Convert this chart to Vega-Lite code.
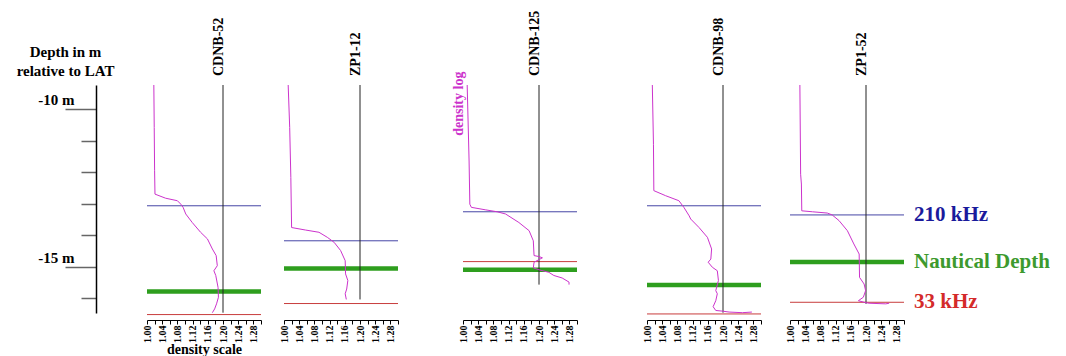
{
"$schema": "https://vega.github.io/schema/vega-lite/v6.json",
"background": "white",
"padding": {"left": 16, "top": 10, "right": 0, "bottom": 0},
"bounds": "flush",
"spacing": 0,
"config": {"view": {"stroke": null}, "font": "Liberation Serif"},
"datasets": {
"profiles": [
{"panel":"CDNB-52","i":1,"density":1.018,"depth":-9.24},{"panel":"CDNB-52","i":2,"density":1.019,"depth":-10.59},{"panel":"CDNB-52","i":3,"density":1.020,"depth":-11.96},{"panel":"CDNB-52","i":4,"density":1.021,"depth":-12.70},{"panel":"CDNB-52","i":5,"density":1.049,"depth":-12.83},{"panel":"CDNB-52","i":6,"density":1.080,"depth":-12.91},{"panel":"CDNB-52","i":7,"density":1.089,"depth":-13.02},{"panel":"CDNB-52","i":8,"density":1.095,"depth":-13.12},{"panel":"CDNB-52","i":9,"density":1.102,"depth":-13.33},{"panel":"CDNB-52","i":10,"density":1.119,"depth":-13.60},{"panel":"CDNB-52","i":11,"density":1.141,"depth":-13.91},{"panel":"CDNB-52","i":12,"density":1.159,"depth":-14.12},{"panel":"CDNB-52","i":13,"density":1.172,"depth":-14.44},{"panel":"CDNB-52","i":14,"density":1.182,"depth":-14.65},{"panel":"CDNB-52","i":15,"density":1.185,"depth":-14.97},{"panel":"CDNB-52","i":16,"density":1.176,"depth":-15.13},{"panel":"CDNB-52","i":17,"density":1.181,"depth":-15.28},{"panel":"CDNB-52","i":18,"density":1.187,"depth":-15.66},{"panel":"CDNB-52","i":19,"density":1.188,"depth":-15.97},{"panel":"CDNB-52","i":20,"density":1.183,"depth":-16.18},{"panel":"CDNB-52","i":21,"density":1.178,"depth":-16.34},{"panel":"CDNB-52","i":22,"density":1.172,"depth":-16.46},
{"panel":"ZP1-12","i":1,"density":1.011,"depth":-9.24},{"panel":"ZP1-12","i":2,"density":1.015,"depth":-10.59},{"panel":"ZP1-12","i":3,"density":1.018,"depth":-12.17},{"panel":"ZP1-12","i":4,"density":1.020,"depth":-13.76},{"panel":"ZP1-12","i":5,"density":1.057,"depth":-13.84},{"panel":"ZP1-12","i":6,"density":1.092,"depth":-13.91},{"panel":"ZP1-12","i":7,"density":1.114,"depth":-14.07},{"panel":"ZP1-12","i":8,"density":1.132,"depth":-14.23},{"panel":"ZP1-12","i":9,"density":1.149,"depth":-14.49},{"panel":"ZP1-12","i":10,"density":1.161,"depth":-14.81},{"panel":"ZP1-12","i":11,"density":1.162,"depth":-15.23},{"panel":"ZP1-12","i":12,"density":1.168,"depth":-15.44},{"panel":"ZP1-12","i":13,"density":1.165,"depth":-15.71},{"panel":"ZP1-12","i":14,"density":1.161,"depth":-15.86},{"panel":"ZP1-12","i":15,"density":1.164,"depth":-16.04},
{"panel":"CDNB-125","i":1,"density":1.011,"depth":-9.24},{"panel":"CDNB-125","i":2,"density":1.016,"depth":-11.65},{"panel":"CDNB-125","i":3,"density":1.018,"depth":-13.02},{"panel":"CDNB-125","i":4,"density":1.022,"depth":-13.12},{"panel":"CDNB-125","i":5,"density":1.060,"depth":-13.20},{"panel":"CDNB-125","i":6,"density":1.090,"depth":-13.26},{"panel":"CDNB-125","i":7,"density":1.112,"depth":-13.33},{"panel":"CDNB-125","i":8,"density":1.147,"depth":-13.60},{"panel":"CDNB-125","i":9,"density":1.174,"depth":-13.86},{"panel":"CDNB-125","i":10,"density":1.185,"depth":-14.18},{"panel":"CDNB-125","i":11,"density":1.187,"depth":-14.65},{"panel":"CDNB-125","i":12,"density":1.200,"depth":-14.68},{"panel":"CDNB-125","i":13,"density":1.209,"depth":-14.72},{"panel":"CDNB-125","i":14,"density":1.198,"depth":-14.79},{"panel":"CDNB-125","i":15,"density":1.187,"depth":-14.86},{"panel":"CDNB-125","i":16,"density":1.185,"depth":-15.04},{"panel":"CDNB-125","i":17,"density":1.200,"depth":-15.10},{"panel":"CDNB-125","i":18,"density":1.226,"depth":-15.18},{"panel":"CDNB-125","i":19,"density":1.239,"depth":-15.28},{"panel":"CDNB-125","i":20,"density":1.261,"depth":-15.36},{"panel":"CDNB-125","i":21,"density":1.279,"depth":-15.49},{"panel":"CDNB-125","i":22,"density":1.279,"depth":-15.57},
{"panel":"CDNB-98","i":1,"density":1.014,"depth":-9.24},{"panel":"CDNB-98","i":2,"density":1.017,"depth":-11.12},{"panel":"CDNB-98","i":3,"density":1.018,"depth":-12.59},{"panel":"CDNB-98","i":4,"density":1.049,"depth":-12.75},{"panel":"CDNB-98","i":5,"density":1.084,"depth":-12.91},{"panel":"CDNB-98","i":6,"density":1.097,"depth":-13.12},{"panel":"CDNB-98","i":7,"density":1.111,"depth":-13.39},{"panel":"CDNB-98","i":8,"density":1.115,"depth":-13.49},{"panel":"CDNB-98","i":9,"density":1.137,"depth":-13.76},{"panel":"CDNB-98","i":10,"density":1.159,"depth":-14.07},{"panel":"CDNB-98","i":11,"density":1.170,"depth":-14.44},{"panel":"CDNB-98","i":12,"density":1.168,"depth":-14.76},{"panel":"CDNB-98","i":13,"density":1.161,"depth":-14.86},{"panel":"CDNB-98","i":14,"density":1.172,"depth":-15.02},{"panel":"CDNB-98","i":15,"density":1.185,"depth":-15.13},{"panel":"CDNB-98","i":16,"density":1.188,"depth":-15.44},{"panel":"CDNB-98","i":17,"density":1.181,"depth":-15.76},{"panel":"CDNB-98","i":18,"density":1.185,"depth":-15.86},{"panel":"CDNB-98","i":19,"density":1.181,"depth":-16.08},{"panel":"CDNB-98","i":20,"density":1.174,"depth":-16.27},{"panel":"CDNB-98","i":21,"density":1.181,"depth":-16.39},{"panel":"CDNB-98","i":22,"density":1.198,"depth":-16.41},{"panel":"CDNB-98","i":23,"density":1.216,"depth":-16.44},{"panel":"CDNB-98","i":24,"density":1.251,"depth":-16.46},{"panel":"CDNB-98","i":25,"density":1.276,"depth":-16.44},
{"panel":"ZP1-52","i":1,"density":1.026,"depth":-9.24},{"panel":"ZP1-52","i":2,"density":1.028,"depth":-12.07},{"panel":"ZP1-52","i":3,"density":1.030,"depth":-12.38},{"panel":"ZP1-52","i":4,"density":1.031,"depth":-13.23},{"panel":"ZP1-52","i":5,"density":1.059,"depth":-13.26},{"panel":"ZP1-52","i":6,"density":1.098,"depth":-13.30},{"panel":"ZP1-52","i":7,"density":1.111,"depth":-13.36},{"panel":"ZP1-52","i":8,"density":1.129,"depth":-13.54},{"panel":"ZP1-52","i":9,"density":1.151,"depth":-13.86},{"panel":"ZP1-52","i":10,"density":1.168,"depth":-14.28},{"panel":"ZP1-52","i":11,"density":1.182,"depth":-14.60},{"panel":"ZP1-52","i":12,"density":1.183,"depth":-15.34},{"panel":"ZP1-52","i":13,"density":1.195,"depth":-15.55},{"panel":"ZP1-52","i":14,"density":1.199,"depth":-15.76},{"panel":"ZP1-52","i":15,"density":1.193,"depth":-15.97},{"panel":"ZP1-52","i":16,"density":1.180,"depth":-16.08},{"panel":"ZP1-52","i":17,"density":1.195,"depth":-16.13},{"panel":"ZP1-52","i":18,"density":1.208,"depth":-16.16},{"panel":"ZP1-52","i":19,"density":1.252,"depth":-16.18},{"panel":"ZP1-52","i":20,"density":1.261,"depth":-16.16}
],
"levels": [
{"panel":"CDNB-52","level":"210 kHz","depth":-13.07},{"panel":"CDNB-52","level":"Nautical Depth","depth":-15.79},{"panel":"CDNB-52","level":"33 kHz","depth":-16.52},
{"panel":"ZP1-12","level":"210 kHz","depth":-14.18},{"panel":"ZP1-12","level":"Nautical Depth","depth":-15.06},{"panel":"ZP1-12","level":"33 kHz","depth":-16.17},
{"panel":"CDNB-125","level":"210 kHz","depth":-13.26},{"panel":"CDNB-125","level":"Nautical Depth","depth":-15.10},{"panel":"CDNB-125","level":"33 kHz","depth":-14.84},
{"panel":"CDNB-98","level":"210 kHz","depth":-13.07},{"panel":"CDNB-98","level":"Nautical Depth","depth":-15.58},{"panel":"CDNB-98","level":"33 kHz","depth":-16.50},
{"panel":"ZP1-52","level":"210 kHz","depth":-13.36},{"panel":"ZP1-52","level":"Nautical Depth","depth":-14.85},{"panel":"ZP1-52","level":"33 kHz","depth":-16.13}
]
},
"hconcat": [
{"width":114,"height":228,"layer":[
 {"data":{"name":"levels"},"transform":[{"filter":"datum.panel === 'CDNB-52'"}],"mark":{"type":"rule"},"encoding":{"y":{"field":"depth","type":"quantitative","scale":{"domain":[-16.47,-9.24],"nice":false,"zero":false}},"stroke":{"field":"level","type":"nominal","scale":{"type":"ordinal","domain":["210 kHz","Nautical Depth","33 kHz"],"range":["#4646a6","#2e9e1e","#c83c3c"]},"legend":null},"strokeWidth":{"field":"level","type":"nominal","scale":{"type":"ordinal","domain":["210 kHz","Nautical Depth","33 kHz"],"range":[1,4.5,1]},"legend":null}}},
 {"data":{"name":"profiles"},"transform":[{"filter":"datum.panel === 'CDNB-52'"}],"mark":{"type":"rule","color":"#222","strokeWidth":1},"encoding":{"x":{"datum":1.2,"type":"quantitative","scale":{"domain":[1,1.3],"nice":false,"zero":false}},"y":{"aggregate":"max","field":"depth","type":"quantitative","scale":{"domain":[-16.47,-9.24],"nice":false,"zero":false}},"y2":{"aggregate":"min","field":"depth"}}},
 {"data":{"name":"profiles"},"transform":[{"filter":"datum.panel === 'CDNB-52'"}],"mark":{"type":"line","color":"#cc33cc","strokeWidth":1},"encoding":{
   "x":{"field":"density","type":"quantitative","scale":{"domain":[1,1.3],"nice":false,"zero":false},"axis":{"values":[1,1.02,1.04,1.06,1.08,1.1,1.12,1.14,1.16,1.18,1.2,1.22,1.24,1.26,1.28,1.3],"tickCount":40,"labelExpr":"round(datum.value*100) % 4 == 0 && datum.value < 1.29 ? format(datum.value, '.2f') : ''","labelAngle":270,"labelFont":"Liberation Serif","labelFontWeight":"bold","labelFontSize":10,"labelColor":"#000","labelPadding":1,"labelOverlap":false,"labelFlush":false,"labelBound":false,"domainColor":"#000","tickColor":"#000","tickSize":4,"offset":7,"grid":false,"title":"density scale","titleFont":"Liberation Serif","titleFontWeight":"bold","titleFontSize":14,"titleColor":"#000","titlePadding":0}},
   "y":{"field":"depth","type":"quantitative","scale":{"domain":[-16.47,-9.24],"nice":false,"zero":false},"axis":{"orient":"left","offset":51,"values":[-10,-11,-12,-13,-14,-15,-16],"tickCount":40,"grid":false,"domainColor":"#000","domainWidth":1.5,"tickColor":"#666","tickWidth":1.5,"tickSize":{"condition":{"test":"datum.value == -10 || datum.value == -15","value":31},"value":15},"labelExpr":"datum.value == -10 ? '-10 m' : (datum.value == -15 ? '-15 m' : '')","labelFont":"Liberation Serif","labelFontWeight":"bold","labelFontSize":15,"labelColor":"#000","labelAlign":"right","labelBaseline":"middle","labelOffset":-9,"labelPadding":-9,"labelOverlap":false,"labelBound":false,"labelFlush":false,"title":["Depth in m","relative to LAT"],"titleFont":"Liberation Serif","titleFontWeight":"bold","titleFontSize":15,"titleColor":"#000","titleAngle":0,"titleAlign":"center","titleBaseline":"top","titleX":-31,"titleY":-41,"titleLineHeight":19}},
   "order":{"field":"i","type":"quantitative"}}},
 {"data":{"values":[{"name":"CDNB-52"}]},"mark":{"type":"text","angle":270,"align":"left","baseline":"alphabetic","dx":9,"font":"Liberation Serif","fontWeight":"bold","fontSize":14,"color":"#000"},"encoding":{"x":{"datum":1.2,"type":"quantitative","scale":{"domain":[1,1.3],"nice":false,"zero":false}},"y":{"datum":-9.24,"type":"quantitative","scale":{"domain":[-16.47,-9.24],"nice":false,"zero":false}},"text":{"field":"name"}}}
]},
{"width":23,"height":228,"data":{"values":[]},"mark":"rule","encoding":{}},
{"width":114,"height":228,"layer":[
 {"data":{"name":"levels"},"transform":[{"filter":"datum.panel === 'ZP1-12'"}],"mark":{"type":"rule"},"encoding":{"y":{"field":"depth","type":"quantitative","scale":{"domain":[-16.47,-9.24],"nice":false,"zero":false},"axis":null},"stroke":{"field":"level","type":"nominal","scale":{"type":"ordinal","domain":["210 kHz","Nautical Depth","33 kHz"],"range":["#4646a6","#2e9e1e","#c83c3c"]},"legend":null},"strokeWidth":{"field":"level","type":"nominal","scale":{"type":"ordinal","domain":["210 kHz","Nautical Depth","33 kHz"],"range":[1,4.5,1]},"legend":null}}},
 {"data":{"name":"profiles"},"transform":[{"filter":"datum.panel === 'ZP1-12'"}],"mark":{"type":"rule","color":"#222","strokeWidth":1},"encoding":{"x":{"datum":1.2,"type":"quantitative","scale":{"domain":[1,1.3],"nice":false,"zero":false}},"y":{"aggregate":"max","field":"depth","type":"quantitative","scale":{"domain":[-16.47,-9.24],"nice":false,"zero":false},"axis":null},"y2":{"aggregate":"min","field":"depth"}}},
 {"data":{"name":"profiles"},"transform":[{"filter":"datum.panel === 'ZP1-12'"}],"mark":{"type":"line","color":"#cc33cc","strokeWidth":1},"encoding":{
   "x":{"field":"density","type":"quantitative","scale":{"domain":[1,1.3],"nice":false,"zero":false},"axis":{"values":[1,1.02,1.04,1.06,1.08,1.1,1.12,1.14,1.16,1.18,1.2,1.22,1.24,1.26,1.28,1.3],"tickCount":40,"labelExpr":"round(datum.value*100) % 4 == 0 && datum.value < 1.29 ? format(datum.value, '.2f') : ''","labelAngle":270,"labelFont":"Liberation Serif","labelFontWeight":"bold","labelFontSize":10,"labelColor":"#000","labelPadding":1,"labelOverlap":false,"labelFlush":false,"labelBound":false,"domainColor":"#000","tickColor":"#000","tickSize":4,"offset":7,"grid":false,"title":null}},
   "y":{"field":"depth","type":"quantitative","scale":{"domain":[-16.47,-9.24],"nice":false,"zero":false},"axis":null},
   "order":{"field":"i","type":"quantitative"}}},
 {"data":{"values":[{"name":"ZP1-12"}]},"mark":{"type":"text","angle":270,"align":"left","baseline":"alphabetic","dx":9,"font":"Liberation Serif","fontWeight":"bold","fontSize":14,"color":"#000"},"encoding":{"x":{"datum":1.2,"type":"quantitative","scale":{"domain":[1,1.3],"nice":false,"zero":false}},"y":{"datum":-9.24,"type":"quantitative","scale":{"domain":[-16.47,-9.24],"nice":false,"zero":false},"axis":null},"text":{"field":"name"}}}
]},
{"width":65,"height":228,"data":{"values":[]},"mark":"rule","encoding":{}},
{"width":114,"height":228,"layer":[
 {"data":{"name":"levels"},"transform":[{"filter":"datum.panel === 'CDNB-125'"}],"mark":{"type":"rule"},"encoding":{"y":{"field":"depth","type":"quantitative","scale":{"domain":[-16.47,-9.24],"nice":false,"zero":false},"axis":null},"stroke":{"field":"level","type":"nominal","scale":{"type":"ordinal","domain":["210 kHz","Nautical Depth","33 kHz"],"range":["#2e2e9e","#2e9e1e","#c83c3c"]},"legend":null},"strokeWidth":{"field":"level","type":"nominal","scale":{"type":"ordinal","domain":["210 kHz","Nautical Depth","33 kHz"],"range":[1,4.5,1]},"legend":null}}},
 {"data":{"name":"profiles"},"transform":[{"filter":"datum.panel === 'CDNB-125'"}],"mark":{"type":"rule","color":"#222","strokeWidth":1},"encoding":{"x":{"datum":1.2,"type":"quantitative","scale":{"domain":[1,1.3],"nice":false,"zero":false}},"y":{"aggregate":"max","field":"depth","type":"quantitative","scale":{"domain":[-16.47,-9.24],"nice":false,"zero":false},"axis":null},"y2":{"aggregate":"min","field":"depth"}}},
 {"data":{"name":"profiles"},"transform":[{"filter":"datum.panel === 'CDNB-125'"}],"mark":{"type":"line","color":"#cc33cc","strokeWidth":1},"encoding":{
   "x":{"field":"density","type":"quantitative","scale":{"domain":[1,1.3],"nice":false,"zero":false},"axis":{"values":[1,1.02,1.04,1.06,1.08,1.1,1.12,1.14,1.16,1.18,1.2,1.22,1.24,1.26,1.28,1.3],"tickCount":40,"labelExpr":"round(datum.value*100) % 4 == 0 && datum.value < 1.29 ? format(datum.value, '.2f') : ''","labelAngle":270,"labelFont":"Liberation Serif","labelFontWeight":"bold","labelFontSize":10,"labelColor":"#000","labelPadding":1,"labelOverlap":false,"labelFlush":false,"labelBound":false,"domainColor":"#000","tickColor":"#000","tickSize":4,"offset":7,"grid":false,"title":null}},
   "y":{"field":"depth","type":"quantitative","scale":{"domain":[-16.47,-9.24],"nice":false,"zero":false},"axis":null},
   "order":{"field":"i","type":"quantitative"}}},
 {"data":{"values":[{"name":"CDNB-125"}]},"mark":{"type":"text","angle":270,"align":"left","baseline":"alphabetic","dx":9,"font":"Liberation Serif","fontWeight":"bold","fontSize":14,"color":"#000"},"encoding":{"x":{"datum":1.2,"type":"quantitative","scale":{"domain":[1,1.3],"nice":false,"zero":false}},"y":{"datum":-9.24,"type":"quantitative","scale":{"domain":[-16.47,-9.24],"nice":false,"zero":false},"axis":null},"text":{"field":"name"}}},
 {"data":{"values":[{"name":"density log"}]},"mark":{"type":"text","angle":270,"align":"left","baseline":"middle","dy":-4,"font":"Liberation Serif","fontWeight":"bold","fontSize":14,"color":"#cc33cc"},"encoding":{"x":{"datum":1.0,"type":"quantitative","scale":{"domain":[1,1.3],"nice":false,"zero":false}},"y":{"datum":-10.85,"type":"quantitative","scale":{"domain":[-16.47,-9.24],"nice":false,"zero":false},"axis":null},"text":{"field":"name"}}}
]},
{"width":70,"height":228,"data":{"values":[]},"mark":"rule","encoding":{}},
{"width":114,"height":228,"layer":[
 {"data":{"name":"levels"},"transform":[{"filter":"datum.panel === 'CDNB-98'"}],"mark":{"type":"rule"},"encoding":{"y":{"field":"depth","type":"quantitative","scale":{"domain":[-16.47,-9.24],"nice":false,"zero":false},"axis":null},"stroke":{"field":"level","type":"nominal","scale":{"type":"ordinal","domain":["210 kHz","Nautical Depth","33 kHz"],"range":["#4646a6","#2e9e1e","#c83c3c"]},"legend":null},"strokeWidth":{"field":"level","type":"nominal","scale":{"type":"ordinal","domain":["210 kHz","Nautical Depth","33 kHz"],"range":[1,4.5,1]},"legend":null}}},
 {"data":{"name":"profiles"},"transform":[{"filter":"datum.panel === 'CDNB-98'"}],"mark":{"type":"rule","color":"#222","strokeWidth":1},"encoding":{"x":{"datum":1.2,"type":"quantitative","scale":{"domain":[1,1.3],"nice":false,"zero":false}},"y":{"aggregate":"max","field":"depth","type":"quantitative","scale":{"domain":[-16.47,-9.24],"nice":false,"zero":false},"axis":null},"y2":{"aggregate":"min","field":"depth"}}},
 {"data":{"name":"profiles"},"transform":[{"filter":"datum.panel === 'CDNB-98'"}],"mark":{"type":"line","color":"#cc33cc","strokeWidth":1},"encoding":{
   "x":{"field":"density","type":"quantitative","scale":{"domain":[1,1.3],"nice":false,"zero":false},"axis":{"values":[1,1.02,1.04,1.06,1.08,1.1,1.12,1.14,1.16,1.18,1.2,1.22,1.24,1.26,1.28,1.3],"tickCount":40,"labelExpr":"round(datum.value*100) % 4 == 0 && datum.value < 1.29 ? format(datum.value, '.2f') : ''","labelAngle":270,"labelFont":"Liberation Serif","labelFontWeight":"bold","labelFontSize":10,"labelColor":"#000","labelPadding":1,"labelOverlap":false,"labelFlush":false,"labelBound":false,"domainColor":"#000","tickColor":"#000","tickSize":4,"offset":7,"grid":false,"title":null}},
   "y":{"field":"depth","type":"quantitative","scale":{"domain":[-16.47,-9.24],"nice":false,"zero":false},"axis":null},
   "order":{"field":"i","type":"quantitative"}}},
 {"data":{"values":[{"name":"CDNB-98"}]},"mark":{"type":"text","angle":270,"align":"left","baseline":"alphabetic","dx":9,"font":"Liberation Serif","fontWeight":"bold","fontSize":14,"color":"#000"},"encoding":{"x":{"datum":1.2,"type":"quantitative","scale":{"domain":[1,1.3],"nice":false,"zero":false}},"y":{"datum":-9.24,"type":"quantitative","scale":{"domain":[-16.47,-9.24],"nice":false,"zero":false},"axis":null},"text":{"field":"name"}}}
]},
{"width":29,"height":228,"data":{"values":[]},"mark":"rule","encoding":{}},
{"width":114,"height":228,"layer":[
 {"data":{"name":"levels"},"transform":[{"filter":"datum.panel === 'ZP1-52'"}],"mark":{"type":"rule"},"encoding":{"y":{"field":"depth","type":"quantitative","scale":{"domain":[-16.47,-9.24],"nice":false,"zero":false},"axis":null},"stroke":{"field":"level","type":"nominal","scale":{"type":"ordinal","domain":["210 kHz","Nautical Depth","33 kHz"],"range":["#2e2e9e","#2e9e1e","#c87080"]},"legend":null},"strokeWidth":{"field":"level","type":"nominal","scale":{"type":"ordinal","domain":["210 kHz","Nautical Depth","33 kHz"],"range":[1,4.5,1]},"legend":null}}},
 {"data":{"name":"profiles"},"transform":[{"filter":"datum.panel === 'ZP1-52'"}],"mark":{"type":"rule","color":"#222","strokeWidth":1},"encoding":{"x":{"datum":1.2,"type":"quantitative","scale":{"domain":[1,1.3],"nice":false,"zero":false}},"y":{"aggregate":"max","field":"depth","type":"quantitative","scale":{"domain":[-16.47,-9.24],"nice":false,"zero":false},"axis":null},"y2":{"aggregate":"min","field":"depth"}}},
 {"data":{"name":"profiles"},"transform":[{"filter":"datum.panel === 'ZP1-52'"}],"mark":{"type":"line","color":"#cc33cc","strokeWidth":1},"encoding":{
   "x":{"field":"density","type":"quantitative","scale":{"domain":[1,1.3],"nice":false,"zero":false},"axis":{"values":[1,1.02,1.04,1.06,1.08,1.1,1.12,1.14,1.16,1.18,1.2,1.22,1.24,1.26,1.28,1.3],"tickCount":40,"labelExpr":"round(datum.value*100) % 4 == 0 && datum.value < 1.29 ? format(datum.value, '.2f') : ''","labelAngle":270,"labelFont":"Liberation Serif","labelFontWeight":"bold","labelFontSize":10,"labelColor":"#000","labelPadding":1,"labelOverlap":false,"labelFlush":false,"labelBound":false,"domainColor":"#000","tickColor":"#000","tickSize":4,"offset":7,"grid":false,"title":null}},
   "y":{"field":"depth","type":"quantitative","scale":{"domain":[-16.47,-9.24],"nice":false,"zero":false},"axis":null},
   "order":{"field":"i","type":"quantitative"}}},
 {"data":{"values":[{"name":"ZP1-52"}]},"mark":{"type":"text","angle":270,"align":"left","baseline":"alphabetic","dx":9,"font":"Liberation Serif","fontWeight":"bold","fontSize":14,"color":"#000"},"encoding":{"x":{"datum":1.2,"type":"quantitative","scale":{"domain":[1,1.3],"nice":false,"zero":false}},"y":{"datum":-9.24,"type":"quantitative","scale":{"domain":[-16.47,-9.24],"nice":false,"zero":false},"axis":null},"text":{"field":"name"}}},
 {"data":{"name":"levels"},"transform":[{"filter":"datum.panel === 'ZP1-52'"}],"mark":{"type":"text","align":"left","baseline":"middle","dx":10,"font":"Liberation Serif","fontWeight":"bold","fontSize":21},"encoding":{"x":{"datum":1.3,"type":"quantitative","scale":{"domain":[1,1.3],"nice":false,"zero":false}},"y":{"field":"depth","type":"quantitative","scale":{"domain":[-16.47,-9.24],"nice":false,"zero":false},"axis":null},"text":{"field":"level"},"color":{"field":"level","type":"nominal","scale":{"type":"ordinal","domain":["210 kHz","Nautical Depth","33 kHz"],"range":["#1a1a9c","#3d9a2e","#d42a2a"]},"legend":null}}}
]}
]
}
